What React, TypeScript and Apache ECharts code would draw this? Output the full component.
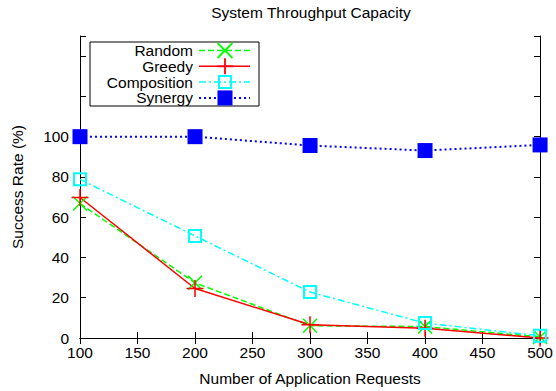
import React, { useEffect, useRef } from "react";
import * as echarts from "echarts";

const xValues = [100, 200, 300, 400, 500];
const seriesNames = ["Random", "Greedy", "Composition", "Synergy"];
const randomRate = [66.8, 27.4, 6.1, 5.7, 0.5];
const greedyRate = [69.8, 24.6, 6.6, 4.8, 0];
const compositionRate = [78.8, 50.7, 22.8, 7.4, 1.1];
const synergyRate = [100, 100, 95.6, 93.1, 95.9];

const FONT = "Liberation Sans";
const FS = 15.5;

const X_PATH =
  "path://M0,1.4 L1.4,0 L10,8.6 L18.6,0 L20,1.4 L11.4,10 L20,18.6 L18.6,20 L10,11.4 L1.4,20 L0,18.6 L8.6,10 Z";
const PLUS_PATH = "path://M9.1,0 H10.9 V9.1 H20 V10.9 H10.9 V20 H9.1 V10.9 H0 V9.1 H9.1 Z";

const GREEN = "#00ff00";
const RED = "#ff0000";
const CYAN = "#00ffff";
const BLUE = "#0000ff";

function pairs(vals: number[]) {
  return xValues.map((x, i) => [x, vals[i]]);
}

export default function App() {
  const ref = useRef<HTMLDivElement>(null);
  useEffect(() => {
    if (!ref.current) return;
    const chart = echarts.init(ref.current, undefined, { renderer: "svg" });

    const gridLeft = 80;
    const gridTop = 36;
    const gridRight = 14;
    const gridBottom = 52;
    const plotCenterX = gridLeft + (556 - gridLeft - gridRight) / 2;

    const axisCommon = {
      axisLine: { show: true, lineStyle: { color: "#000", width: 1 } },
      axisTick: { show: true, inside: true, length: 6, lineStyle: { color: "#000", width: 1 } },
      splitLine: { show: false },
    };

    // legend (drawn as graphics to match gnuplot's right-aligned key)
    const lx = 90, ly = 42, lw = 169, lh = 64;
    const rowY = [50.5, 66.3, 82.1, 97.9];
    const textRight = 193;
    const lineX1 = 199, lineX2 = 250, markX = 225;
    const dashes: any[] = [[6, 3], null, [7, 3, 2, 3], [2, 3]];
    const colors = [GREEN, RED, CYAN, BLUE];
    const legendEls: any[] = [
      {
        type: "rect",
        shape: { x: lx, y: ly, width: lw, height: lh },
        style: { fill: "#fff", stroke: "#000", lineWidth: 1 },
        z: 100,
      },
    ];
    seriesNames.forEach((name, i) => {
      const y = rowY[i];
      legendEls.push({
        type: "text",
        x: textRight,
        y,
        style: {
          text: name,
          fill: "#000",
          font: `${FS}px "${FONT}"`,
          textAlign: "right",
          textVerticalAlign: "middle",
        },
        z: 101,
      });
      legendEls.push({
        type: "line",
        shape: { x1: lineX1, y1: y, x2: lineX2, y2: y },
        style: {
          stroke: colors[i],
          lineWidth: i === 3 ? 2 : 1.5,
          lineDash: dashes[i] || undefined,
        },
        z: 101,
      });
    });
    // markers
    const h = 7.5;
    legendEls.push(
      {
        type: "line",
        shape: { x1: markX - h, y1: rowY[0] - h, x2: markX + h, y2: rowY[0] + h },
        style: { stroke: GREEN, lineWidth: 1.8 },
        z: 102,
      },
      {
        type: "line",
        shape: { x1: markX - h, y1: rowY[0] + h, x2: markX + h, y2: rowY[0] - h },
        style: { stroke: GREEN, lineWidth: 1.8 },
        z: 102,
      },
      {
        type: "line",
        shape: { x1: markX - 8, y1: rowY[1], x2: markX + 8, y2: rowY[1] },
        style: { stroke: RED, lineWidth: 1.8 },
        z: 102,
      },
      {
        type: "line",
        shape: { x1: markX, y1: rowY[1] - 8, x2: markX, y2: rowY[1] + 8 },
        style: { stroke: RED, lineWidth: 1.8 },
        z: 102,
      },
      {
        type: "rect",
        shape: { x: markX - 6, y: rowY[2] - 6, width: 12, height: 12 },
        style: { fill: "none", stroke: CYAN, lineWidth: 2 },
        z: 102,
      },
      {
        type: "rect",
        shape: { x: markX - 7.5, y: rowY[3] - 7.5, width: 15, height: 15 },
        style: { fill: BLUE },
        z: 102,
      }
    );

    chart.setOption({
      animation: false,
      backgroundColor: "#fff",
      textStyle: { fontFamily: FONT },
      grid: { left: gridLeft, top: gridTop, right: gridRight, bottom: gridBottom },
      xAxis: [
        {
          type: "value",
          min: 100,
          max: 500,
          interval: 50,
          position: "bottom",
          name: "Number of Application Requests",
          nameLocation: "middle",
          nameGap: 32,
          nameTextStyle: { fontSize: FS, color: "#000", fontFamily: FONT },
          axisLabel: { fontSize: FS, color: "#000", margin: 6, fontFamily: FONT },
          ...axisCommon,
        },
        {
          type: "value",
          min: 100,
          max: 500,
          interval: 50,
          position: "top",
          axisLabel: { show: false },
          ...axisCommon,
        },
      ],
      yAxis: [
        {
          type: "value",
          min: 0,
          max: 150,
          interval: 20,
          position: "left",
          name: "Success Rate (%)",
          nameLocation: "middle",
          nameGap: 55,
          nameTextStyle: { fontSize: FS, color: "#000", fontFamily: FONT },
          axisLabel: {
            fontSize: FS,
            color: "#000",
            margin: 11,
            fontFamily: FONT,
            formatter: (v: number) => (v <= 100 ? String(v) : ""),
          },
          ...axisCommon,
        },
        {
          type: "value",
          min: 0,
          max: 150,
          interval: 20,
          position: "right",
          axisLabel: { show: false },
          ...axisCommon,
        },
      ],
      graphic: [
        {
          type: "text",
          x: plotCenterX,
          y: 12,
          style: {
            text: "System Throughput Capacity",
            fill: "#000",
            font: `${FS}px "${FONT}"`,
            textAlign: "center",
            textVerticalAlign: "middle",
          },
        },
        ...legendEls,
      ],
      series: [
        {
          name: seriesNames[0],
          type: "line",
          data: pairs(randomRate),
          symbol: X_PATH,
          symbolSize: 15,
          itemStyle: { color: GREEN },
          lineStyle: { color: GREEN, width: 1.5, type: [6, 3] },
          clip: false,
        },
        {
          name: seriesNames[1],
          type: "line",
          data: pairs(greedyRate),
          symbol: PLUS_PATH,
          symbolSize: 17,
          itemStyle: { color: RED },
          lineStyle: { color: RED, width: 1.5, type: "solid" },
          clip: false,
        },
        {
          name: seriesNames[2],
          type: "line",
          data: pairs(compositionRate),
          symbol: "rect",
          symbolSize: 12,
          itemStyle: { color: "rgba(0,0,0,0)", borderColor: CYAN, borderWidth: 2 },
          lineStyle: { color: CYAN, width: 1.5, type: [7, 3, 2, 3] },
          clip: false,
        },
        {
          name: seriesNames[3],
          type: "line",
          data: pairs(synergyRate),
          symbol: "rect",
          symbolSize: 15,
          itemStyle: { color: BLUE },
          lineStyle: { color: BLUE, width: 2, type: [2, 3] },
          clip: false,
        },
      ],
    });
    return () => chart.dispose();
  }, []);
  return (
    <div
      ref={ref}
      style={{ position: "absolute", left: 0, top: 0, width: 556, height: 391, background: "#fff" }}
    />
  );
}
